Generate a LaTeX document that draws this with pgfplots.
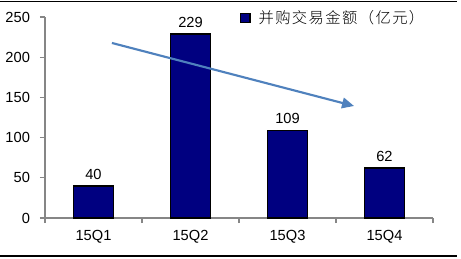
\documentclass[border=0pt]{standalone}
\usepackage{pgfplots}
\pgfplotsset{compat=1.18}
\usepackage{fontspec}
\setmainfont{Liberation Sans}
\newfontfamily\cjk[LetterSpace=9]{Noto Sans CJK SC Light}
\usetikzlibrary{arrows.meta}
\definecolor{barnavy}{RGB}{0,0,128}
\definecolor{arrowblue}{RGB}{79,129,189}
\definecolor{axgrey}{RGB}{134,134,134}
\begin{document}
\begin{tikzpicture}
\begin{axis}[
  at={(33.75pt,30pt)}, anchor=south west,
  scale only axis, width=291pt, height=150.75pt,
  xmin=-0.5, xmax=3.5, ymin=0, ymax=250,
  axis lines*=left,
  axis line style={axgrey, line width=0.9pt},
  every tick/.style={axgrey, line width=0.9pt},
  tick align=outside,
  major tick length=3.75pt, minor tick length=3.75pt,
  xtick={0,1,2,3}, xticklabels={15Q1,15Q2,15Q3,15Q4},
  minor xtick={-0.5,0.5,1.5,2.5,3.5},
  major x tick style={draw=none},
  ytick={0,50,100,150,200,250},
  /pgf/number format/assume math mode=true,
  tick label style={font=\fontsize{11}{13}\selectfont, black},
  yticklabel style={xshift=-4pt},
  xticklabel style={yshift=-2pt},
  legend style={at={(0.503,0.995)}, anchor=west, draw=none, fill=none,
    inner sep=0pt, font=\cjk\fontsize{11.5}{13}\selectfont},
  legend cell align=left,
  clip=false,
]
\addplot[ybar, bar width=30pt, fill=barnavy, draw=black, line width=1pt,
  nodes near coords, every node near coord/.append style={font=\fontsize{11}{13}\selectfont, black, yshift=1pt},
  legend image code/.code={\draw[fill=barnavy,draw=black,line width=0.8pt] (0pt,-3.4pt) rectangle (6.8pt,3.4pt);}]
  coordinates {(0,40) (1,229) (2,109) (3,62)};
\addlegendentry{\hspace{4pt}并购交易金额（亿元）}
\addplot[forget plot, arrowblue, line width=1.6pt, -{Triangle[length=9pt,width=8pt]}]
  coordinates {(0.19,217.7) (2.686,139.3)};
\end{axis}
\draw[black, line width=0.9pt] (0pt,192.6pt) -- (342.75pt,192.6pt);
\draw[black, line width=0.9pt] (0pt,1.5pt) -- (342.75pt,1.5pt);
\pgfresetboundingbox
\useasboundingbox (0pt,0pt) rectangle (345.75pt,193.5pt);
\end{tikzpicture}
\end{document}
